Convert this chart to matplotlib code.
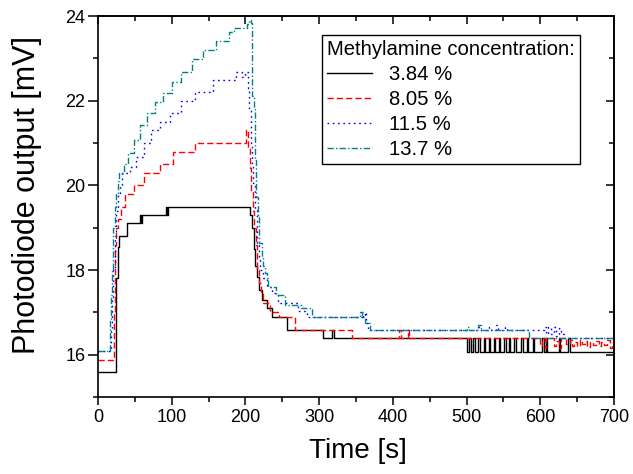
import matplotlib
matplotlib.use("Agg")
import matplotlib.pyplot as plt
from matplotlib.ticker import MultipleLocator

plt.rcParams['font.family'] = ['Liberation Sans', 'DejaVu Sans']

# ---------------- data (time [s], photodiode output [mV]) ----------------
labels = ["3.84 %", "8.05 %", "11.5 %", "13.7 %"]
legend_title = "Methylamine concentration:"

t_384 = [0, 24, 25, 26.5, 28.5, 39, 57, 58, 60, 92, 93.5, 95, 206, 208.5, 211, 213, 216,
         219, 222, 229, 236, 256, 305, 317, 320,
         500, 503, 506, 509, 512, 516, 518, 523, 525, 530, 532, 537, 539, 544, 546, 551,
         553, 557, 559, 565, 567, 574, 576, 582, 584, 590, 592, 603, 605, 608, 609.5,
         625, 627, 638, 640, 700]
v_384 = [15.6, 16.7, 17.8, 18.55, 18.8, 19.1, 19.3, 19.1, 19.3, 19.5, 19.3, 19.5, 19.3, 19.0,
         18.5, 18.1, 17.84, 17.53, 17.29, 17.1, 16.9, 16.58, 16.39, 16.58, 16.39,
         16.07, 16.39, 16.07, 16.39, 16.07, 16.39, 16.07, 16.39, 16.07, 16.39, 16.07, 16.39,
         16.07, 16.39, 16.07, 16.39, 16.07, 16.39, 16.07, 16.39, 16.07, 16.39, 16.07, 16.39,
         16.07, 16.39, 16.07, 16.39, 16.07, 16.39, 16.07, 16.39, 16.07, 16.39, 16.07, 16.07]

t_805 = [0, 21.7, 22.7, 23.7, 25, 27.5, 31, 37, 49, 63, 84, 102, 131, 201, 204, 206, 208,
         210, 212, 214, 216, 218, 221, 224, 233, 246, 267, 345, 409, 411, 420, 422,
         600, 602, 606, 608, 618, 621, 625, 628, 635, 640, 643, 646, 650, 654, 657, 661,
         664, 667, 671, 675, 679, 683, 687, 691, 694, 697, 700]
v_805 = [15.87, 17.0, 18.0, 18.6, 19.0, 19.2, 19.5, 19.8, 20.0, 20.28, 20.5, 20.78, 21.0,
         21.3, 20.9, 20.4, 19.9, 19.4, 19.0, 18.6, 18.0, 17.7, 17.45, 17.22, 17.0, 16.9,
         16.58, 16.39, 16.58, 16.39, 16.58, 16.39,
         16.2, 16.39, 16.15, 16.39, 16.2, 16.32, 16.15, 16.39, 16.25, 16.35, 16.2, 16.3,
         16.2, 16.35, 16.25, 16.32, 16.18, 16.3, 16.22, 16.32, 16.2, 16.3, 16.22, 16.35,
         16.15, 16.28, 16.28]

t_115 = [0, 17, 19, 21, 23, 25, 27.5, 30, 33, 43, 52, 63, 72, 84, 97, 113, 131, 156, 187,
         196, 199, 204, 205.5, 207, 209, 210.7, 213, 216, 218, 220, 224, 229, 236, 244,
         271, 283, 358, 360, 362, 364, 366, 516, 518, 530, 533, 540, 542, 552, 555, 605,
         608, 611, 614, 618, 621, 625, 628, 632, 700]
v_115 = [16.09, 16.6, 17.3, 18.0, 18.8, 19.4, 19.8, 20.0, 20.28, 20.44, 20.68, 20.99, 21.3,
         21.5, 21.7, 22.0, 22.21, 22.49, 22.68, 22.55, 22.68, 22.3, 21.78, 20.99, 20.5,
         20.05, 19.42, 18.63, 18.3, 18.0, 17.8, 17.6, 17.45, 17.22, 17.03, 16.9, 17.0,
         16.9, 17.0, 16.75, 16.58, 16.66, 16.58, 16.66, 16.58, 16.7, 16.58, 16.66, 16.58,
         16.66, 16.5, 16.66, 16.5, 16.66, 16.45, 16.62, 16.5, 16.39, 16.39]

t_137 = [0, 16, 18, 19.5, 21, 23, 25, 27, 29, 35, 41, 49, 57, 67, 77, 88, 100, 113, 127,
         143, 160, 178, 184, 202, 204.5, 207.5, 209, 211, 213, 215, 217, 219, 222, 224,
         226, 229, 231, 242, 254, 276, 290, 355, 358, 362, 369, 500, 503, 516, 519, 585, 700]
v_137 = [16.09, 16.8, 17.4, 18.0, 19.0, 19.5, 19.8, 20.1, 20.28, 20.5, 20.76, 21.07, 21.43,
         21.7, 21.98, 22.17, 22.45, 22.68, 22.98, 23.2, 23.4, 23.63, 23.71, 23.8, 23.91,
         23.83, 22.1, 21.8, 20.6, 19.73, 19.26, 18.63, 18.3, 18.1, 17.92, 17.8, 17.6,
         17.4, 17.17, 17.1, 16.9, 17.0, 16.9, 16.75, 16.58, 16.66, 16.58, 16.7, 16.58,
         16.39, 16.39]

series_t = [t_384, t_805, t_115, t_137]
series_v = [v_384, v_805, v_115, v_137]
colors = ["#000000", "#ff0000", "#0000ff", "#008080"]
dash_styles = [None, (4.5, 2.2), (1.2, 2.6), (4.5, 1.6, 1.0, 1.6)]

# ---------------- figure ----------------
fig = plt.figure(figsize=(6.33, 4.74), dpi=100)
ax = fig.add_axes([98 / 633, 1 - 397 / 474, 516 / 633, 381 / 474])

for t, v, c, d, lab in zip(series_t, series_v, colors, dash_styles, labels):
    line, = ax.plot(t, v, drawstyle='steps-post', color=c, lw=1.0, label=lab)
    if d is not None:
        line.set_dashes(d)

ax.set_xlim(0, 700)
ax.set_ylim(15, 24)

ax.xaxis.set_major_locator(MultipleLocator(100))
ax.xaxis.set_minor_locator(MultipleLocator(50))
ax.yaxis.set_major_locator(MultipleLocator(2))
ax.yaxis.set_minor_locator(MultipleLocator(1))

ax.tick_params(which='both', direction='out', top=False, right=False, width=1.1,
               labelsize=13, color='black')
ax.tick_params(axis='x', which='major', length=6, pad=3)
ax.tick_params(axis='x', which='minor', length=3.5)
ax.tick_params(axis='y', which='major', length=7, pad=2)
ax.tick_params(axis='y', which='minor', length=3.5)

for s in ax.spines.values():
    s.set_linewidth(1.2)

# mirrored top / right axes with inward ticks
top = ax.secondary_xaxis('top')
top.xaxis.set_major_locator(MultipleLocator(100))
top.xaxis.set_minor_locator(MultipleLocator(50))
top.tick_params(which='both', direction='in', labeltop=False, width=1.1)
top.tick_params(which='major', length=6)
top.tick_params(which='minor', length=3.5)
top.spines['top'].set_linewidth(1.2)

right = ax.secondary_yaxis('right')
right.yaxis.set_major_locator(MultipleLocator(2))
right.yaxis.set_minor_locator(MultipleLocator(1))
right.tick_params(which='both', direction='in', labelright=False, width=1.1)
right.tick_params(which='major', length=6)
right.tick_params(which='minor', length=3.5)
right.spines['right'].set_linewidth(1.2)

ax.set_xlabel("Time [s]", fontsize=20)
ax.set_ylabel("Photodiode output [mV]", fontsize=22)
ax.xaxis.set_label_coords((357.5 - 98) / 516, (397 - 438) / 381)
ax.yaxis.set_label_coords((42 - 98) / 516, (397 - 194.5) / 381)

leg = ax.legend(title=legend_title, loc='upper right',
                bbox_to_anchor=((580 - 98) / 516, (397 - 35) / 381),
                borderaxespad=0, fontsize=14.6, title_fontsize=14.6,
                frameon=True, fancybox=False, framealpha=1, edgecolor='black',
                handlelength=2.2, handletextpad=0.85, labelspacing=0.3,
                borderpad=0.25, alignment='left')
leg.get_frame().set_linewidth(1.0)

fig.savefig("out.png", dpi=100)
